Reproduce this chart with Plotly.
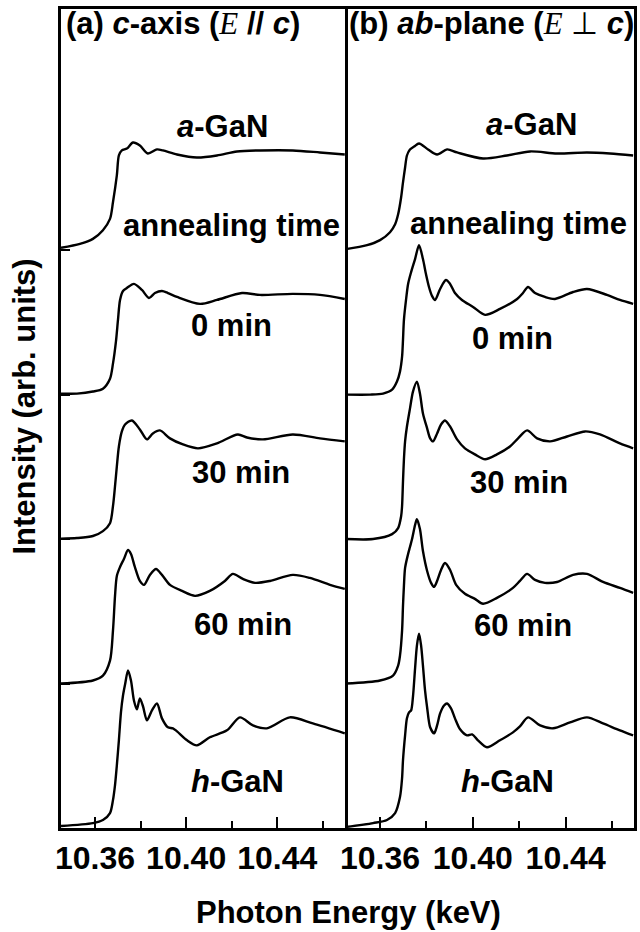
import plotly.graph_objects as go

# Ga K-edge XANES spectra, photon energy in keV, normalised intensity (arb. units)

# (a) c-axis polarisation, E // c
E_C_AGAN = [10.3451, 10.3534, 10.3591, 10.3635, 10.3666, 10.3679, 10.3696, 10.3705, 10.3718, 10.3740,
            10.3767, 10.3797, 10.3832, 10.3872, 10.3898, 10.3960, 10.4047, 10.4135, 10.4223, 10.4324,
            10.4468, 10.4587, 10.4696]
I_C_AGAN = [0.016, 0.043, 0.078, 0.138, 0.216, 0.331, 0.517, 0.655, 0.690, 0.703,
            0.745, 0.724, 0.669, 0.697, 0.690, 0.662, 0.641, 0.655, 0.683, 0.690,
            0.690, 0.676, 0.662]

E_C_0MIN = [10.3451, 10.3521, 10.3591, 10.3635, 10.3666, 10.3679, 10.3692, 10.3701, 10.3710, 10.3723,
            10.3740, 10.3771, 10.3806, 10.3837, 10.3863, 10.3894, 10.3920, 10.3960, 10.4061, 10.4135,
            10.4245, 10.4324, 10.4468, 10.4587, 10.4696]
I_C_0MIN = [0.007, 0.007, 0.021, 0.041, 0.110, 0.214, 0.366, 0.517, 0.655, 0.717,
            0.738, 0.766, 0.724, 0.669, 0.703, 0.717, 0.703, 0.676, 0.628, 0.655,
            0.703, 0.690, 0.697, 0.690, 0.662]

E_C_30MIN = [10.3451, 10.3521, 10.3591, 10.3635, 10.3666, 10.3679, 10.3688, 10.3696, 10.3705, 10.3718,
             10.3732, 10.3762, 10.3797, 10.3828, 10.3854, 10.3885, 10.3929, 10.3986, 10.4052, 10.4135,
             10.4227, 10.4267, 10.4337, 10.4468, 10.4587, 10.4696]
I_C_30MIN = [0.003, 0.007, 0.021, 0.055, 0.110, 0.228, 0.366, 0.503, 0.641, 0.745,
             0.793, 0.821, 0.759, 0.690, 0.731, 0.752, 0.697, 0.655, 0.628, 0.662,
             0.724, 0.703, 0.690, 0.724, 0.697, 0.676]

E_C_60MIN = [10.3451, 10.3591, 10.3635, 10.3666, 10.3679, 10.3688, 10.3696, 10.3710, 10.3727, 10.3745,
             10.3758, 10.3775, 10.3797, 10.3815, 10.3841, 10.3868, 10.3894, 10.3929, 10.3982, 10.4039,
             10.4104, 10.4170, 10.4205, 10.4249, 10.4302, 10.4368, 10.4468, 10.4543, 10.4631, 10.4696]
I_C_60MIN = [0.000, 0.021, 0.055, 0.159, 0.366, 0.607, 0.745, 0.807, 0.862, 0.924,
             0.897, 0.807, 0.710, 0.683, 0.752, 0.793, 0.752, 0.683, 0.641, 0.607,
             0.641, 0.710, 0.759, 0.724, 0.697, 0.710, 0.752, 0.731, 0.683, 0.655]

E_C_HGAN = [10.3451, 10.3591, 10.3635, 10.3666, 10.3679, 10.3688, 10.3696, 10.3705, 10.3714, 10.3723,
            10.3732, 10.3745, 10.3758, 10.3771, 10.3784, 10.3797, 10.3811, 10.3828, 10.3850, 10.3872,
            10.3894, 10.3920, 10.3942, 10.3960, 10.4004, 10.4047, 10.4104, 10.4179, 10.4236, 10.4293,
            10.4354, 10.4455, 10.4556, 10.4696]
I_C_HGAN = [0.014, 0.034, 0.055, 0.103, 0.193, 0.297, 0.434, 0.607, 0.800, 0.917,
            0.993, 1.090, 1.021, 0.883, 0.821, 0.897, 0.841, 0.745, 0.814, 0.862,
            0.759, 0.697, 0.690, 0.669, 0.607, 0.572, 0.628, 0.676, 0.766, 0.710,
            0.690, 0.766, 0.724, 0.655]

# (b) ab-plane polarisation, E perpendicular to c
E_AB_AGAN = [10.3453, 10.3544, 10.3600, 10.3643, 10.3665, 10.3678, 10.3691, 10.3699, 10.3708, 10.3716,
             10.3729, 10.3747, 10.3768, 10.3807, 10.3846, 10.3889, 10.3932, 10.4044, 10.4147, 10.4247,
             10.4363, 10.4492, 10.4591, 10.4691]
I_AB_AGAN = [0.007, 0.034, 0.069, 0.124, 0.179, 0.248, 0.366, 0.469, 0.572, 0.655,
             0.697, 0.717, 0.738, 0.697, 0.662, 0.697, 0.676, 0.634, 0.655, 0.683,
             0.669, 0.676, 0.669, 0.655]

E_AB_0MIN = [10.3453, 10.3557, 10.3613, 10.3652, 10.3673, 10.3686, 10.3695, 10.3699, 10.3703, 10.3712,
             10.3721, 10.3734, 10.3751, 10.3768, 10.3785, 10.3798, 10.3811, 10.3824, 10.3837, 10.3859,
             10.3884, 10.3902, 10.3923, 10.3953, 10.4001, 10.4053, 10.4117, 10.4191, 10.4216, 10.4238,
             10.4268, 10.4311, 10.4354, 10.4432, 10.4492, 10.4578, 10.4634, 10.4691]
I_AB_0MIN = [0.000, 0.000, 0.007, 0.034, 0.090, 0.159, 0.262, 0.379, 0.517, 0.655,
             0.766, 0.848, 0.938, 1.034, 0.938, 0.834, 0.745, 0.683, 0.655, 0.731,
             0.793, 0.766, 0.703, 0.655, 0.607, 0.552, 0.593, 0.662, 0.703, 0.745,
             0.703, 0.676, 0.662, 0.710, 0.731, 0.690, 0.655, 0.628]

E_AB_30MIN = [10.3453, 10.3570, 10.3652, 10.3678, 10.3691, 10.3695, 10.3699, 10.3703, 10.3708, 10.3716,
              10.3729, 10.3742, 10.3759, 10.3772, 10.3785, 10.3803, 10.3816, 10.3828, 10.3846, 10.3863,
              10.3880, 10.3902, 10.3932, 10.3966, 10.4009, 10.4053, 10.4104, 10.4160, 10.4195, 10.4234,
              10.4277, 10.4333, 10.4406, 10.4484, 10.4548, 10.4634, 10.4691]
I_AB_30MIN = [0.000, 0.000, 0.034, 0.076, 0.159, 0.228, 0.400, 0.552, 0.676, 0.779,
              0.903, 1.021, 1.090, 1.007, 0.869, 0.766, 0.697, 0.676, 0.731, 0.793,
              0.821, 0.779, 0.690, 0.628, 0.586, 0.552, 0.586, 0.641, 0.697, 0.752,
              0.697, 0.676, 0.710, 0.745, 0.724, 0.662, 0.628]

E_AB_60MIN = [10.3453, 10.3600, 10.3656, 10.3678, 10.3686, 10.3695, 10.3699, 10.3703, 10.3708, 10.3721,
              10.3729, 10.3738, 10.3751, 10.3759, 10.3772, 10.3785, 10.3803, 10.3820, 10.3833, 10.3846,
              10.3863, 10.3880, 10.3902, 10.3928, 10.3966, 10.4009, 10.4044, 10.4104, 10.4173, 10.4203,
              10.4234, 10.4268, 10.4311, 10.4363, 10.4432, 10.4492, 10.4561, 10.4634, 10.4691]
I_AB_60MIN = [0.000, 0.021, 0.055, 0.124, 0.193, 0.366, 0.538, 0.676, 0.800, 0.897,
              0.945, 1.000, 1.097, 1.138, 1.069, 0.917, 0.779, 0.697, 0.669, 0.710,
              0.786, 0.834, 0.786, 0.683, 0.621, 0.586, 0.552, 0.593, 0.662, 0.710,
              0.759, 0.717, 0.697, 0.703, 0.752, 0.759, 0.703, 0.662, 0.628]

E_AB_HGAN = [10.3453, 10.3570, 10.3630, 10.3665, 10.3686, 10.3695, 10.3699, 10.3708, 10.3716, 10.3725,
             10.3734, 10.3742, 10.3751, 10.3759, 10.3768, 10.3777, 10.3785, 10.3794, 10.3803, 10.3816,
             10.3833, 10.3846, 10.3859, 10.3876, 10.3889, 10.3906, 10.3923, 10.3945, 10.3975, 10.3997,
             10.4022, 10.4061, 10.4117, 10.4173, 10.4203, 10.4238, 10.4290, 10.4346, 10.4419, 10.4492,
             10.4561, 10.4634, 10.4691]
I_AB_HGAN = [0.007, 0.034, 0.055, 0.103, 0.214, 0.345, 0.469, 0.641, 0.759, 0.800,
             0.814, 0.910, 1.103, 1.262, 1.345, 1.262, 1.124, 0.952, 0.834, 0.697,
             0.655, 0.710, 0.793, 0.848, 0.862, 0.828, 0.759, 0.683, 0.641, 0.648,
             0.607, 0.559, 0.607, 0.662, 0.703, 0.766, 0.710, 0.690, 0.731, 0.766,
             0.724, 0.676, 0.641]

SAMPLE_LABELS = ["<i>a</i>-GaN", "0 min", "30 min", "60 min", "<i>h</i>-GaN"]
STACK_OFFSETS = [4, 3, 2, 1, 0]          # vertical shift of each spectrum
SERIES_C = [(E_C_AGAN, I_C_AGAN), (E_C_0MIN, I_C_0MIN), (E_C_30MIN, I_C_30MIN),
            (E_C_60MIN, I_C_60MIN), (E_C_HGAN, I_C_HGAN)]
SERIES_AB = [(E_AB_AGAN, I_AB_AGAN), (E_AB_0MIN, I_AB_0MIN), (E_AB_30MIN, I_AB_30MIN),
             (E_AB_60MIN, I_AB_60MIN), (E_AB_HGAN, I_AB_HGAN)]

MAJOR_TICKS = [10.36, 10.40, 10.44]
MAJOR_TICK_TEXT = ["10.36", "10.40", "10.44"]
MINOR_TICKS = [10.38, 10.42, 10.46]
Y_TICKS = [1, 2, 3, 4]

# ---------------------------------------------------------------- styling / layout
FONT = "Liberation Sans, Arial, Helvetica, sans-serif"
SERIF = "Liberation Serif, Times New Roman, serif"
FS = 31
W, H = 640, 932
ML, MR, MT, MB = 61, 6, 6, 104
SPLIT = 284 / (W - ML - MR)            # left panel width as a fraction of plot width
Y_MAX = 822 / 145
LINE = dict(color="black", width=2.4, shape="spline", smoothing=0.8)

# label anchor points inside each panel (axis-domain fractions)
LABEL_POS_C = [(0.567, 0.857), (0.599, 0.613), (0.634, 0.434), (0.641, 0.249), (0.620, 0.057)]
LABEL_POS_AB = [(0.644, 0.859), (0.581, 0.598), (0.602, 0.422), (0.616, 0.247), (0.564, 0.057)]
ANNEAL_POS_C = (0.599, 0.736)
ANNEAL_POS_AB = (0.599, 0.738)

fig = go.Figure()

for (e, inten), off in zip(SERIES_C, STACK_OFFSETS):
    assert len(e) == len(inten)
    fig.add_trace(go.Scatter(x=e, y=[v + off for v in inten], mode="lines", xaxis="x", yaxis="y",
                             line=LINE, showlegend=False, hoverinfo="skip"))
for (e, inten), off in zip(SERIES_AB, STACK_OFFSETS):
    assert len(e) == len(inten)
    fig.add_trace(go.Scatter(x=e, y=[v + off for v in inten], mode="lines", xaxis="x2", yaxis="y2",
                             line=LINE, showlegend=False, hoverinfo="skip"))

xaxis_common = dict(
    showline=True, linecolor="black", linewidth=2.5, mirror=True,
    ticks="inside", ticklen=11, tickwidth=2, tickcolor="black",
    tickmode="array", tickvals=MAJOR_TICKS, ticktext=MAJOR_TICK_TEXT,
    tickfont=dict(family=FONT, size=32, color="black", weight="bold"),
    minor=dict(tickmode="array", tickvals=MINOR_TICKS, ticks="inside", ticklen=7,
               tickwidth=2, tickcolor="black"),
    showgrid=False, zeroline=False, fixedrange=True,
)
yaxis_common = dict(
    range=[0, Y_MAX], showline=True, linecolor="black", linewidth=2.5,
    showgrid=False, zeroline=False, showticklabels=False, fixedrange=True,
)

fig.update_layout(
    width=W, height=H,
    margin=dict(l=ML, r=MR, t=MT, b=MB),
    paper_bgcolor="white", plot_bgcolor="white",
    font=dict(family=FONT, size=FS, color="black", weight="bold"),
    xaxis=dict(domain=[0, SPLIT], range=[10.3451, 10.4697], anchor="y", **xaxis_common),
    xaxis2=dict(domain=[SPLIT, 1], range=[10.3449, 10.46947], anchor="y2", **xaxis_common),
    # left panel: line on both sides (right one is the shared divider)
    yaxis=dict(domain=[0, 1], anchor="x", mirror=True, ticks="inside", ticklen=9, tickwidth=2,
               tickcolor="black", tickmode="array", tickvals=Y_TICKS, **yaxis_common),
    # right panel: only its outer right edge
    yaxis2=dict(domain=[0, 1], anchor="x2", side="right", mirror=False, ticks="", **yaxis_common),
)

ann = []
txt_font = dict(family=FONT, size=FS, color="black", weight="bold")
for panel, positions, anneal in (("x", LABEL_POS_C, ANNEAL_POS_C), ("x2", LABEL_POS_AB, ANNEAL_POS_AB)):
    yref = "y domain" if panel == "x" else "y2 domain"
    for label, (px, py) in zip(SAMPLE_LABELS, positions):
        ann.append(dict(text=label, xref=f"{panel} domain", yref=yref, x=px, y=py,
                        xanchor="center", yanchor="middle", showarrow=False, font=txt_font))
    ann.append(dict(text="annealing time", xref=f"{panel} domain", yref=yref, x=anneal[0], y=anneal[1],
                    xanchor="center", yanchor="middle", showarrow=False, font=txt_font))

E_ITALIC = f"<span style=\"font-family:{SERIF};font-weight:normal\"><i>E</i></span>"
PERP = f"<span style=\"font-family:{SERIF};font-weight:normal\">\u22a5</span>"
ann.append(dict(text=f"(a) <i>c</i>-axis ({E_ITALIC} // <i>c</i>)", xref="x domain", yref="y domain",
                x=0.012, y=0.982, xanchor="left", yanchor="middle", showarrow=False, font=txt_font))
ann.append(dict(text=f"(b) <i>ab</i>-plane ({E_ITALIC} {PERP} <i>c</i>)", xref="x2 domain", yref="y2 domain",
                x=0.008, y=0.982, xanchor="left", yanchor="middle", showarrow=False, font=txt_font))

# shared axis titles
ann.append(dict(text="Photon Energy (keV)", xref="paper", yref="paper", x=0.5026, y=-0.1034,
                xanchor="center", yanchor="middle", showarrow=False, font=txt_font))
ann.append(dict(text="Intensity (arb. units)", xref="paper", yref="paper", x=-0.0628, y=0.5146,
                xanchor="center", yanchor="middle", textangle=-90, showarrow=False, font=txt_font))

fig.update_layout(annotations=ann)
fig.write_html("out.html")
